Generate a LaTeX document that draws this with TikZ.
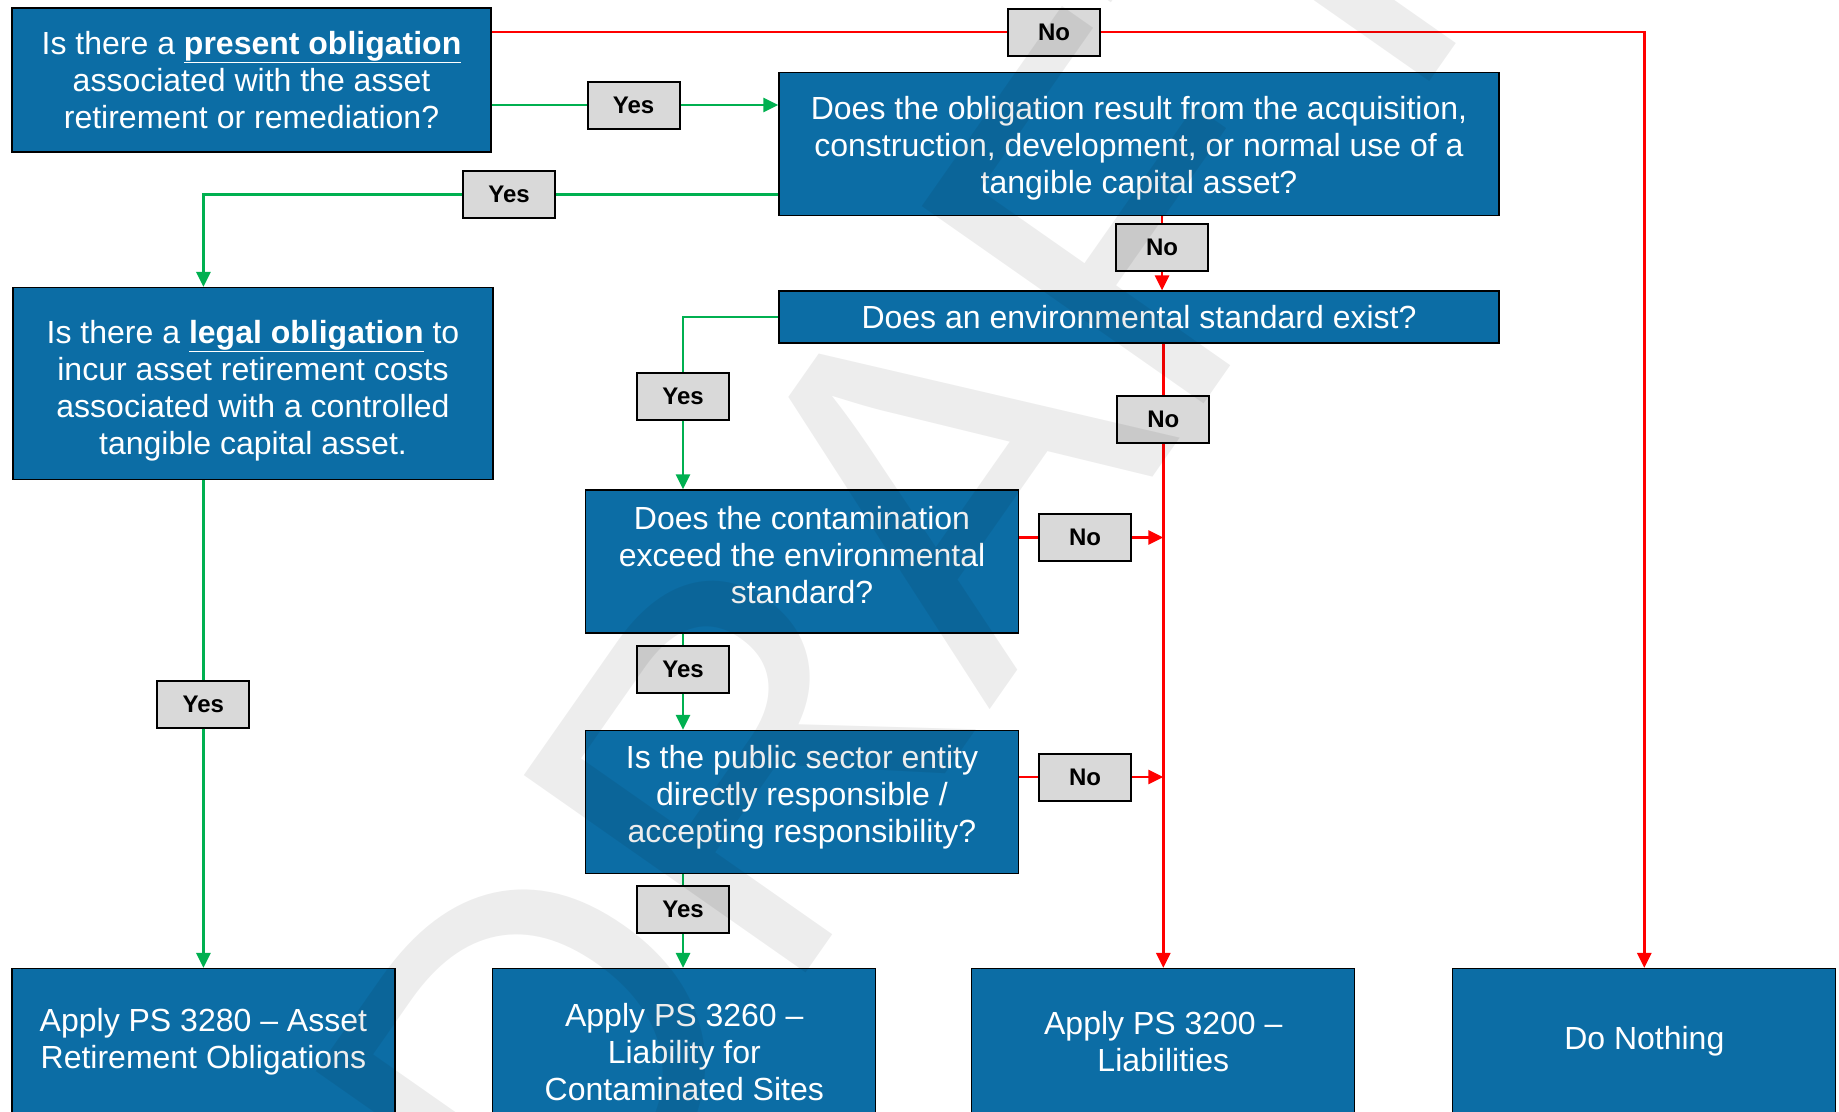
\documentclass[tikz,border=0pt]{standalone}
\usepackage{fontspec}
\setmainfont{Liberation Sans}
\usetikzlibrary{arrows.meta}

\definecolor{boxblue}{RGB}{12,109,165}
\definecolor{tagfill}{RGB}{217,217,217}
\definecolor{yesgreen}{RGB}{0,176,80}
\definecolor{nored}{RGB}{255,0,0}
\newcommand{\ulb}[1]{\underline{\textbf{#1}}}
\newcommand{\padtop}[1]{\rule{0pt}{#1}}
\newcommand{\padbot}[1]{\rule[-#1]{0pt}{0pt}}

\begin{document}
\begin{tikzpicture}[x=1pt, y=-1pt,
    main/.style = {draw=black, line width=1.2pt, fill=boxblue, text=white, align=center, inner sep=0pt,
                   font=\fontsize{32}{37}\selectfont},
    tag/.style = {draw=black, line width=2pt, fill=tagfill, minimum width=92pt, minimum height=47pt,
                  inner sep=0pt, font=\fontsize{24}{28}\selectfont\bfseries},
    yesline/.style = {draw=yesgreen, line width=2.8pt},
    noline/.style = {draw=nored, line width=2.8pt},
    tip/.style = {-{Triangle[length=15pt,width=14pt]}}]

    \useasboundingbox (0,0) rectangle (1839,1111);

    % questions
    \node[main, minimum width=479pt, minimum height=144pt] (1) at (251.5,80)
        {Is there a \ulb{present obligation}\\associated with the asset\\retirement or remediation?};
    \node[main, minimum width=720pt, minimum height=143pt] (2) at (1139,144)
        {\padtop{32pt}Does the obligation result from the acquisition,\\construction, development, or normal use of a\\tangible capital asset?};
    \node[main, minimum width=480pt, minimum height=192pt] (3) at (253,383.5)
        {\padtop{37pt}Is there a \ulb{legal obligation} to\\incur asset retirement costs\\associated with a controlled\\tangible capital asset.};
    \node[main, minimum width=720pt, minimum height=52pt] (4) at (1139,317)
        {Does an environmental standard exist?};
    \node[main, minimum width=433pt, minimum height=143pt] (5) at (802,561.5)
        {Does the contamination\\exceed the environmental\\standard?\padbot{14pt}};
    \node[main, minimum width=433pt, minimum height=143pt] (6) at (802,802)
        {Is the public sector entity\\directly responsible /\\accepting responsibility?\padbot{17pt}};

    % outcomes
    \node[main, minimum width=383pt, minimum height=146pt] (7) at (203.4,1041.5)
        {Apply PS 3280 – Asset\\Retirement Obligations};
    \node[main, minimum width=383pt, minimum height=172pt] (8) at (684.3,1054.5)
        {Apply PS 3260 –\\Liability for\\Contaminated Sites\padbot{6pt}};
    \node[main, minimum width=383pt, minimum height=146pt] (9) at (1163.3,1041.5)
        {Apply PS 3200 –\\Liabilities};
    \node[main, minimum width=383pt, minimum height=146pt] (10) at (1644.3,1041.5)
        {Do Nothing};

    % answers
    \node[tag] (n1) at (1054,32) {No};
    \node[tag] (y1) at (633.5,105) {Yes};
    \node[tag] (y2) at (509,194.5) {Yes};
    \node[tag] (y3) at (203.4,704) {Yes};
    \node[tag] (n2) at (1162,247.5) {No};
    \node[tag] (n3) at (1163.3,419.5) {No};
    \node[tag] (y4) at (683,396) {Yes};
    \node[tag] (n4) at (1085,537.5) {No};
    \node[tag] (y5) at (683,669) {Yes};
    \node[tag] (n5) at (1085,777) {No};
    \node[tag] (y6) at (683,909.5) {Yes};

    \draw[noline] (1.east |- n1) -- (n1);
    \draw[noline, tip] (n1) -| (10);
    \draw[yesline] (1.east |- y1) -- (y1);
    \draw[yesline, tip] (y1) -- (2.west |- y1);
    \draw[yesline] (2.west |- y2) -- (y2);
    \draw[yesline, tip] (y2) -| (3.north -| 7.north);
    \draw[yesline] (3.south -| y3) -- (y3);
    \draw[yesline, tip] (y3) -- (7);

    \draw[noline] (2.south -| n2) -- (n2);
    \draw[noline, tip] (n2) -- (4.north -| n2);
    \draw[noline] (4.south -| n3) -- (n3);
    \draw[noline, tip] (n3) -- (9);

    \draw[yesline] (4.west) -| (y4);
    \draw[yesline, tip] (y4) -- (5.north -| y4);
    \draw[yesline] (5.south -| y5) -- (y5);
    \draw[yesline, tip] (y5) -- (6.north -| y5);
    \draw[yesline] (6.south -| y6) -- (y6);
    \draw[yesline, tip] (y6) -- (8.north -| y6);

    \draw[noline] (5.east |- n4) -- (n4);
    \draw[noline, tip] (n4) -- (n4 -| 9.north);
    \draw[noline] (6.east |- n5) -- (n5);
    \draw[noline, tip] (n5) -- (n5 -| 9.north);

    % watermark
    \node[rotate=55, text=black, text opacity=0.07, font=\fontsize{500}{500}\selectfont] (wm) at (912,521) {DRAFT};
\end{tikzpicture}
\end{document}
